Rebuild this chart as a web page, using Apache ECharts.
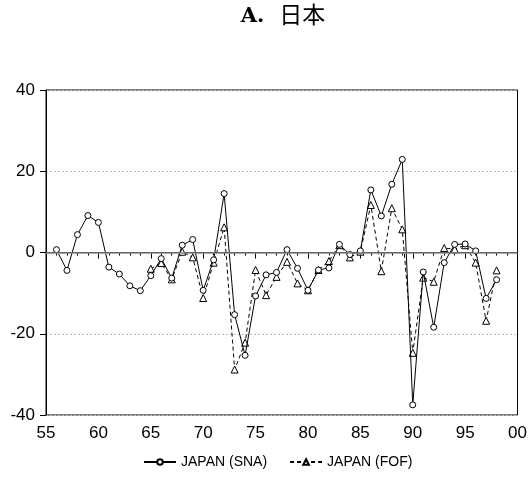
<!DOCTYPE html>
<html>
<head>
<meta charset="utf-8">
<script src="https://cdn.jsdelivr.net/npm/echarts@6/dist/echarts.min.js"></script>
<style>
html,body{margin:0;padding:0;background:#fff;}
#chart{width:530px;height:488px;}
</style>
</head>
<body>
<div id="chart"></div>
<script>
const snaYears = [1956,1957,1958,1959,1960,1961,1962,1963,1964,1965,1966,1967,1968,1969,1970,1971,1972,1973,1974,1975,1976,1977,1978,1979,1980,1981,1982,1983,1984,1985,1986,1987,1988,1989,1990,1991,1992,1993,1994,1995,1996,1997,1998];
const snaValues = [0.7,-4.4,4.4,9.1,7.4,-3.6,-5.3,-8.2,-9.4,-5.7,-1.5,-6.3,1.8,3.2,-9.3,-1.8,14.5,-15.3,-25.3,-10.7,-5.5,-4.9,0.7,-3.9,-9.3,-4.3,-3.8,2.0,-0.5,0.4,15.4,9.0,16.8,22.9,-37.5,-4.8,-18.4,-2.5,2.0,2.1,0.4,-11.3,-6.7];
const fofYears = [1965,1966,1967,1968,1969,1970,1971,1972,1973,1974,1975,1976,1977,1978,1979,1980,1981,1982,1983,1984,1985,1986,1987,1988,1989,1990,1991,1992,1993,1994,1995,1996,1997,1998];
const fofValues = [-4.0,-2.6,-6.6,0.2,-1.2,-11.2,-2.5,6.2,-28.8,-22.2,-4.3,-10.5,-6.0,-2.3,-7.6,-9.3,-4.3,-2.1,1.8,-1.2,0.2,11.7,-4.6,10.9,5.7,-24.7,-6.2,-7.2,1.1,0.8,1.8,-2.5,-16.8,-4.4];
const yTicks = [-40,-20,0,20,40];
const seriesNames = ['JAPAN (SNA)','JAPAN (FOF)'];
const titlePrefix = 'A.';
const titleMain = '日本';

const chart = echarts.init(document.getElementById('chart'), null, {renderer:'canvas'});
const font = 'Liberation Sans, Arial, sans-serif';
chart.setOption({
  animation:false,
  backgroundColor:'#fff',
  title:{
    text:'{a|' + titlePrefix + '} {b|' + titleMain + '}',
    left:283, top:1, padding:0, textAlign:'center',
    textStyle:{
      rich:{
        a:{fontFamily:'"DejaVu Serif", serif', fontWeight:'bold', fontSize:21, lineHeight:26, verticalAlign:'middle', color:'#000', padding:[5,0,0,0]},
        b:{fontFamily:'"Noto Sans CJK JP", sans-serif', fontWeight:'normal', fontSize:23, lineHeight:26, verticalAlign:'middle', color:'#000', padding:[0,0,0,10]}
      }
    }
  },
  legend:{
    top:450, left:138, itemGap:22, itemWidth:32, itemHeight:7,
    textStyle:{fontFamily:font, fontSize:14, color:'#000'},
    data:seriesNames
  },
  grid:{left:46, right:11, top:90, bottom:73, show:true, borderColor:'#000', borderWidth:1, backgroundColor:'transparent'},
  xAxis:{
    type:'value', min:1955, max:2000, interval:5,
    axisLine:{show:true, lineStyle:{color:'#000', width:1}},
    axisTick:{show:true, inside:false, length:6, lineStyle:{color:'#000'}},
    minorTick:{show:true, splitNumber:5, length:3, lineStyle:{color:'#000'}},
    splitLine:{show:false},
    axisLabel:{fontFamily:font, fontSize:17, color:'#000', margin:10,
      formatter:v=>String(v%100).padStart(2,'0')}
  },
  yAxis:{
    type:'value', min:yTicks[0], max:yTicks[yTicks.length-1], interval:20,
    axisLine:{show:true, lineStyle:{color:'#000', width:1}},
    axisTick:{show:true, inside:false, length:6, lineStyle:{color:'#000'}},
    splitLine:{show:true, lineStyle:{color:'#bbb', type:[2,2], width:1}},
    axisLabel:{fontFamily:font, fontSize:17, color:'#000', margin:11}
  },
  series:[
    {
      name:seriesNames[1], type:'line',
      data:fofYears.map((y,i)=>[y,fofValues[i]]),
      symbol:'triangle', symbolSize:7, showAllSymbol:true,
      lineStyle:{color:'#000', width:1, type:[4,3]},
      itemStyle:{color:'#fff', borderColor:'#000', borderWidth:1},
      z:3
    },
    {
      name:seriesNames[0], type:'line',
      data:snaYears.map((y,i)=>[y,snaValues[i]]),
      symbol:'circle', symbolSize:6, showAllSymbol:true,
      lineStyle:{color:'#000', width:1},
      itemStyle:{color:'#fff', borderColor:'#000', borderWidth:1},
      markLine:{silent:true, symbol:'none', label:{show:false},
        lineStyle:{color:'#888', type:'solid', width:1.5},
        data:[{yAxis:0}]},
      z:4
    }
  ]
});
</script>
</body>
</html>
